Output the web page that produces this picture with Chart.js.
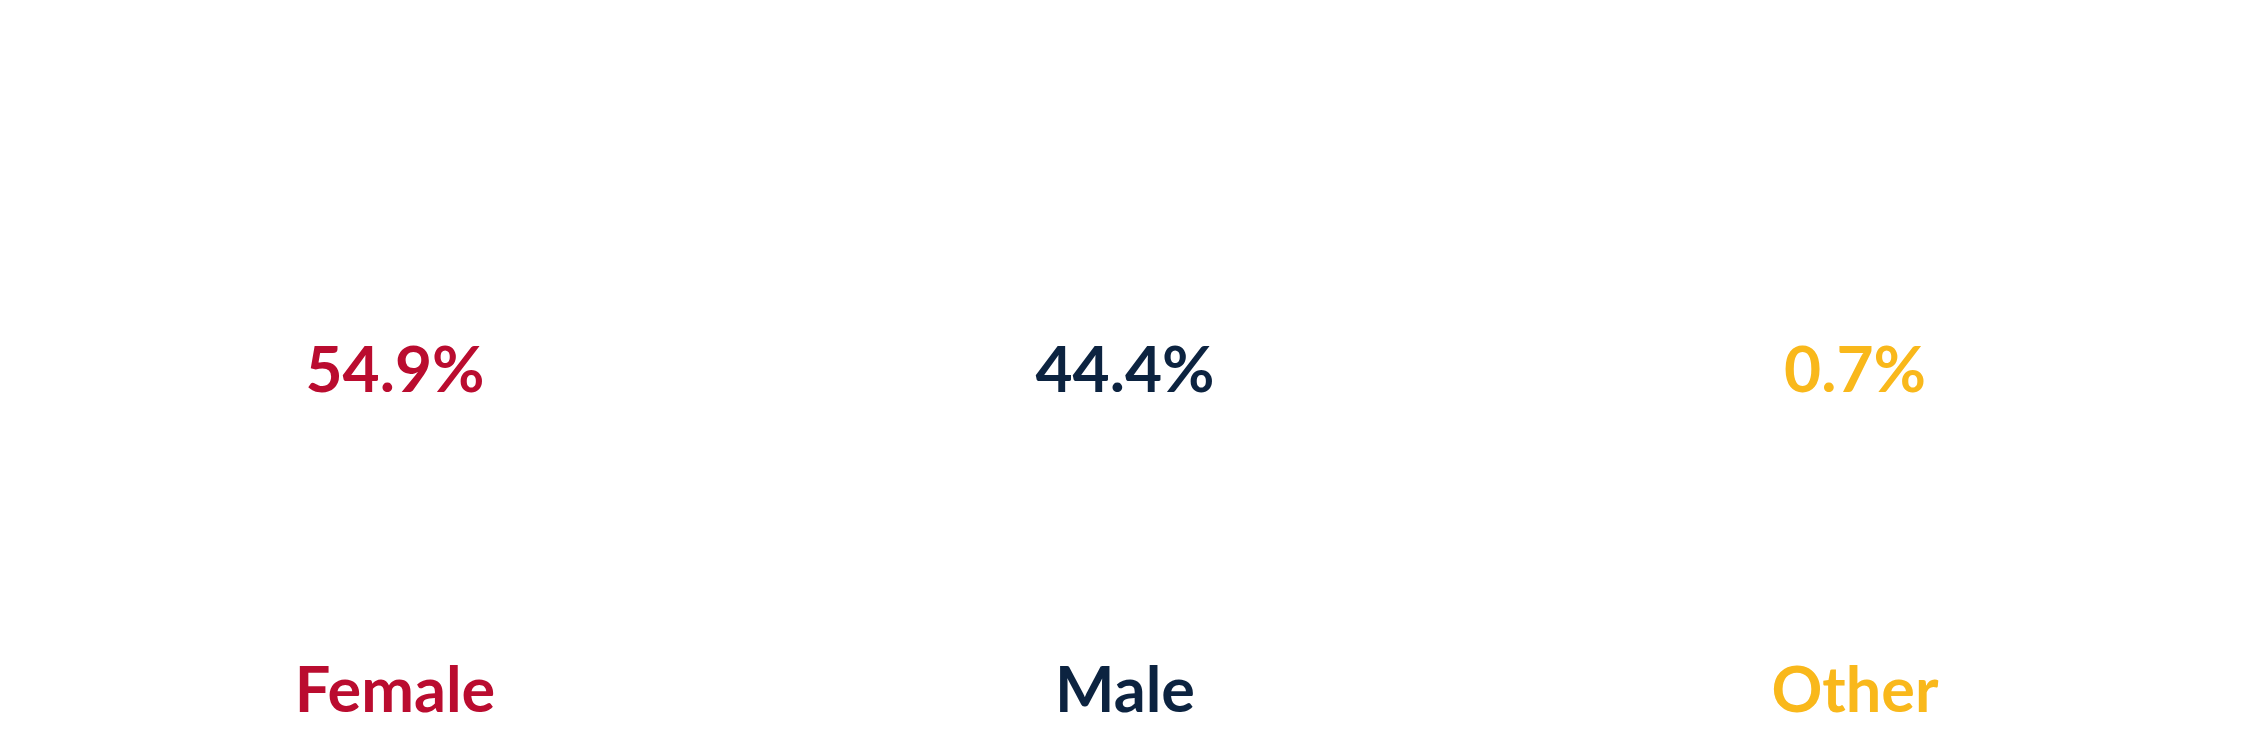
<!DOCTYPE html>
<html>
<head>
<meta charset="utf-8">
<script src="https://cdn.jsdelivr.net/npm/chart.js@4/dist/chart.umd.min.js"></script>
<style>
  html, body { margin: 0; padding: 0; background: #fff; }
  #wrap { width: 2250px; height: 750px; }
</style>
</head>
<body>
<div id="wrap"><canvas id="chart"></canvas></div>
<script>
const categories = ['Female', 'Male', 'Other'];
const shares = [54.9, 44.4, 0.7];
const colors = ['#BA0C2F', '#0C2340', '#F9B81B'];

// draws the share above each column, centred on the category
const shareLabels = {
    id: 'shareLabels',
    afterDatasetsDraw(chart) {
        const ctx = chart.ctx;
        const x = chart.scales.x;
        ctx.save();
        ctx.font = 'bold 64px Lato';
        ctx.textAlign = 'center';
        ctx.textBaseline = 'alphabetic';
        shares.forEach((v, i) => {
            ctx.fillStyle = colors[i];
            ctx.fillText(v.toFixed(1) + '%', x.getPixelForValue(i), 392);
        });
        ctx.restore();
    },
};

new Chart(document.getElementById('chart'), {
    type: 'bar',
    data: {
        labels: categories,
        datasets: [{
            data: shares,
            backgroundColor: 'rgba(0,0,0,0)',
            borderWidth: 0,
        }],
    },
    options: {
        responsive: true,
        maintainAspectRatio: false,
        animation: false,
        layout: {
            padding: { left: 30, right: 30, top: 20, bottom: 21 },
        },
        plugins: {
            legend: { display: false },
            tooltip: { enabled: false },
        },
        scales: {
            x: {
                grid: { display: false },
                border: { display: false },
                ticks: {
                    color: (c) => colors[c.index],
                    padding: 0,
                    font: { family: 'Lato', size: 63, weight: 'bold', lineHeight: 1.2 },
                },
            },
            y: {
                display: false,
                min: 0,
                max: 100,
            },
        },
    },
    plugins: [shareLabels],
});
</script>
</body>
</html>
